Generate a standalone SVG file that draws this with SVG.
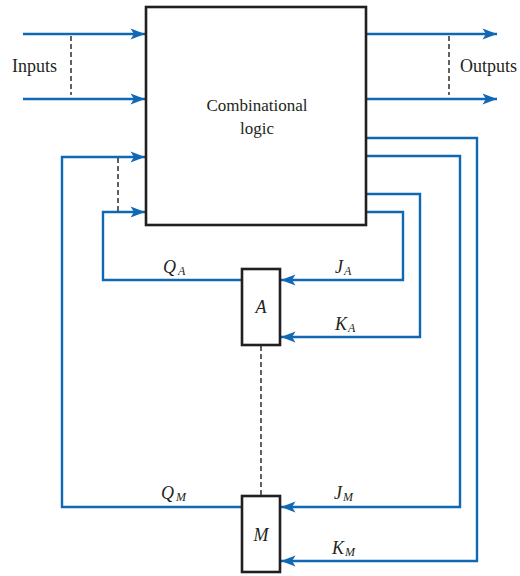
<svg xmlns="http://www.w3.org/2000/svg" width="520" height="576" viewBox="0 0 520 576">
<defs>
<style>
.box{fill:#fff;stroke:#231f20;stroke-width:2.6}
.wire{fill:none;stroke:#1068b4;stroke-width:2.4}
.dash{fill:none;stroke:#231f20;stroke-width:1.4;stroke-dasharray:5 3}
.lbl{font-size:17px}
.side{font-size:18px}
.it{font-size:18px;font-style:italic}
.sub{font-size:12px;font-style:italic}
</style>
<marker id="arr" viewBox="-15 -6 15 12" refX="0" refY="0" markerWidth="15" markerHeight="12" markerUnits="userSpaceOnUse" orient="auto">
<path d="M0,0 L-14.5,-5.5 L-11,0 L-14.5,5.5 Z" fill="#1068b4"/>
</marker>
</defs>
<rect width="520" height="576" fill="#fff"/>
<g id="connectors">
<path class="wire" d="M23,34 H145" marker-end="url(#arr)"/>
<path class="wire" d="M23,99 H145" marker-end="url(#arr)"/>
<path class="wire" d="M367,34 H497" marker-end="url(#arr)"/>
<path class="wire" d="M367,99 H497" marker-end="url(#arr)"/>
<path class="wire" d="M242,507 H62 V157 H145" marker-end="url(#arr)"/>
<path class="wire" d="M242,280 H103 V212 H145" marker-end="url(#arr)"/>
<path class="wire" d="M367,138 H477 V561 H281" marker-end="url(#arr)"/>
<path class="wire" d="M367,156 H460 V507 H281" marker-end="url(#arr)"/>
<path class="wire" d="M367,194 H420 V337 H281" marker-end="url(#arr)"/>
<path class="wire" d="M367,212 H403 V280 H281" marker-end="url(#arr)"/>
<path class="dash" d="M71,36 V95"/>
<path class="dash" d="M449,36 V95"/>
<path class="dash" d="M118,158 V211"/>
<path class="dash" d="M261,346 V495"/>
</g>
<g font-family="'Liberation Serif', 'DejaVu Serif', 'Times New Roman', serif" fill="#231f20">
<g id="inputs-label"><text class="side" x="12" y="72">Inputs</text></g>
<g id="outputs-label"><text class="side" x="460" y="72">Outputs</text></g>
<g id="logic">
<rect class="box" x="146" y="7" width="220" height="218"/>
<text class="lbl" x="257" y="111" text-anchor="middle">Combinational</text>
<text class="lbl" x="257" y="134" text-anchor="middle">logic</text>
</g>
<g id="ffA">
<rect class="box" x="242" y="269" width="38" height="76"/>
<text class="it" x="261" y="313" text-anchor="middle">A</text>
</g>
<g id="ffM">
<rect class="box" x="242" y="496" width="38" height="76"/>
<text class="it" x="261" y="541" text-anchor="middle">M</text>
</g>
<g id="labels">
<text class="it" x="163" y="273">Q<tspan class="sub" dx="2" dy="2">A</tspan></text>
<text class="it" x="335" y="273">J<tspan class="sub" dx="1" dy="2">A</tspan></text>
<text class="it" x="335" y="330">K<tspan class="sub" dx="1" dy="2">A</tspan></text>
<text class="it" x="161" y="499">Q<tspan class="sub" dx="2" dy="2">M</tspan></text>
<text class="it" x="334" y="499">J<tspan class="sub" dx="1" dy="2">M</tspan></text>
<text class="it" x="332" y="554">K<tspan class="sub" dx="1" dy="2">M</tspan></text>
</g>
</g>
</svg>
